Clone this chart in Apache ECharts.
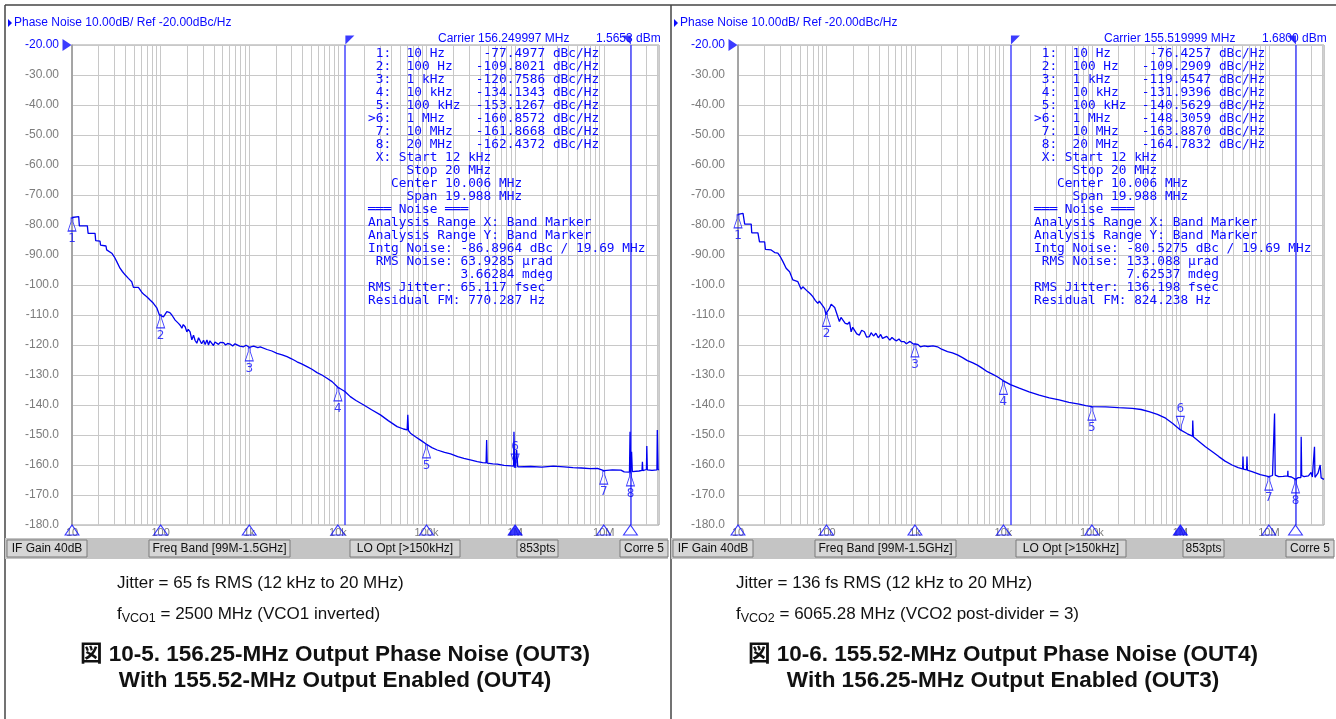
<!DOCTYPE html>
<html>
<head>
<meta charset="utf-8">
<title>Phase noise OUT3 / OUT4</title>
<script src="https://cdn.jsdelivr.net/npm/echarts@6.0.0/dist/echarts.min.js"></script>
<style>
html, body { margin: 0; padding: 0; background: #fff; }
#chart { width: 1336px; height: 719px; }
</style>
</head>
<body>
<div id="chart"></div>
<script>
// axes: offset frequency (Hz, log) and level (dBc/Hz)
const xMin = 10
const xMax = 42e6
const yMin = -180
const yMax = -20
const yStep = 10
const decadeLabels = { 10: '10', 100: '100', 1000: '1k', 10000: '10k', 100000: '100k', 1000000: '1M', 10000000: '10M' }

// markers
const markerFreqs = [10, 100, 1e3, 1e4, 1e5, 1e6, 1e7, 2e7]
const markerNames = ['10 Hz', '100 Hz', '1 kHz', '10 kHz', '100 kHz', '1 MHz', '10 MHz', '20 MHz']
const activeMarker = 5
const markersOut3 = [-77.4977, -109.8021, -120.7586, -134.1343, -153.1267, -160.8572, -161.8668, -162.4372]
const markersOut4 = [-76.4257, -109.2909, -119.4547, -131.9396, -140.5629, -148.3059, -163.8870, -164.7832]
const bandStart = 12e3
const bandStop = 20e6

// analysis results
const carriers = ['156.249997', '155.519999']
const carrierPower = ['1.5653', '1.6800']
const intgNoise = ['-86.8964', '-80.5275']
const rmsNoiseRad = ['63.9285', '133.088']
const rmsNoiseDeg = ['3.66284', '7.62537']
const rmsJitter = ['65.117', '136.198']
const residualFM = ['770.287', '824.238']

// captions
const jitterNotes = ['Jitter = 65 fs RMS (12 kHz to 20 MHz)', 'Jitter = 136 fs RMS (12 kHz to 20 MHz)']
const vcoSub = ['VCO1', 'VCO2']
const vcoNotes = [' = 2500 MHz (VCO1 inverted)', ' = 6065.28 MHz (VCO2 post-divider = 3)']
const titles = [
  ['図 10-5. 156.25-MHz Output Phase Noise (OUT3)', 'With 155.52-MHz Output Enabled (OUT4)'],
  ['図 10-6. 155.52-MHz Output Phase Noise (OUT4)', 'With 156.25-MHz Output Enabled (OUT3)']
]
const statusItems = ['IF Gain 40dB', 'Freq Band [99M-1.5GHz]', 'LO Opt [>150kHz]', '853pts', 'Corre 5']

// traces [Hz, dBc/Hz]
const traceOut3 = [
  [10, -77.5], [11.9, -77.2], [12.1, -80.3], [14.9, -80.3], [15.2, -82.8], [18.2, -82.8], [18.5, -85.2], [20.7, -85.4],
  [21, -86.7], [24.2, -87], [24.6, -88.3], [28.1, -89.4], [30, -90.6], [32, -92.2], [34.8, -94.4], [37, -95.5],
  [39.7, -96.6], [43.3, -97.8], [47.2, -98.9], [49.3, -100.8], [56.1, -100.8], [57, -100.3], [61.2, -102.4], [65, -103.2],
  [69.8, -103.9], [76, -105], [82.9, -106.1], [90.5, -107.6], [96.9, -110], [100, -109.8], [107.6, -110.6], [117.5, -108.9],
  [122, -108.3], [127, -109.2], [133.8, -110], [145.9, -111.7], [159, -112.8], [167, -113.5], [173.7, -114.4], [180, -113.2],
  [189, -113.9], [197.6, -115.6], [205, -114.8], [215, -115.6], [225, -118.3], [235, -116.7], [245, -118.5], [256, -119.4],
  [268, -117.6], [279, -117.8], [290, -119.6], [305, -118.4], [318, -119.8], [333, -118.3], [347, -120], [360, -118.6],
  [378, -118.9], [395, -120.2], [410, -119], [431, -119.4], [450, -119.8], [470, -119.1], [490, -119.6], [513, -119.2],
  [540, -120], [570, -119.5], [610, -119.7], [650, -120.3], [690, -119.6], [726, -120], [780, -120.4], [863, -120.6],
  [920, -120.1], [1000, -120.76], [1120, -120.4], [1250, -120.9], [1331, -120.6], [1585, -121.5], [1800, -122], [2056, -122.8],
  [2350, -123.3], [2666, -123.9], [3000, -124.6], [3457, -125.6], [3900, -126.3], [4483, -127.2], [5100, -128.1], [5815, -129.2],
  [6600, -130], [7540, -131.1], [8600, -132.2], [10000, -134.1], [12000, -135.5], [13800, -137.2], [16000, -138.5], [19600, -140],
  [24000, -141.6], [30200, -143.3], [37000, -145.2], [46600, -147.2], [55000, -148], [60500, -148.3], [61500, -143.3], [62500, -148.5],
  [65900, -149.4], [75000, -150.6], [85500, -151.7], [100000, -153.1], [115000, -154.2], [132000, -155], [160000, -155.8], [187000, -156.3],
  [225000, -157.2], [264000, -157.8], [320000, -158.4], [374000, -158.9], [430000, -159.2], [470000, -159.3], [477000, -151.7], [484000, -159.4],
  [560000, -159.6], [630000, -159.7], [750000, -160.1], [900000, -160.3], [960000, -160.4], [970000, -148.9], [985000, -160], [1000000, -160.86],
  [1040000, -155], [1070000, -160.6], [1500000, -160.5], [2000000, -160.7], [2700000, -160.4], [3560000, -160.6], [4500000, -160.9], [5600000, -161],
  [7000000, -161.2], [8500000, -161.1], [10000000, -161.87], [12500000, -161.6], [15600000, -161.7], [17000000, -162.3], [19500000, -162.4], [19800000, -148.9],
  [20100000, -162.44], [20600000, -155.6], [21000000, -162.2], [25000000, -162], [27000000, -161.8], [27300000, -158.9], [27600000, -161.9], [30300000, -161.5],
  [30600000, -153.7], [31000000, -161.6], [35000000, -161.8], [39800000, -161.6], [40200000, -148.3], [40600000, -155.6], [41000000, -161.5], [42000000, -161.6]
]
const traceOut4 = [
  [10, -76.43], [11.4, -76.1], [11.9, -79.7], [14.1, -79.7], [14.3, -82.6], [16.8, -82.6], [17.5, -85.6], [20, -85.6],
  [20.4, -88.1], [23.7, -88.3], [26, -89.2], [28.2, -89.4], [30, -90.5], [32.2, -92.2], [35, -94.4], [36.5, -94.8],
  [38.3, -95.6], [41.7, -98.3], [47.5, -98.9], [51.7, -101.4], [54, -100.6], [56.5, -100.8], [61.5, -102.2], [66, -103],
  [70.1, -103.9], [75, -105.2], [79.8, -106.1], [83, -105.4], [87, -105.6], [95, -107.8], [99, -110], [100, -109.29],
  [104, -109.5], [108, -107.8], [113, -106.4], [118, -106.7], [124, -107.5], [128, -107.8], [134, -110.5], [140, -112.2],
  [146, -110.8], [153, -111.1], [163, -112.8], [174, -113], [182, -112.3], [190, -115.6], [198, -114.1], [207, -114.4],
  [220, -116.3], [235, -116.7], [250, -115.1], [268, -115.6], [285, -117.4], [305, -117.2], [320, -115.9], [340, -117],
  [362, -116.1], [385, -117.6], [410, -116.5], [430, -117.8], [451, -117.5], [480, -117.1], [520, -118.4], [550, -117.5],
  [584, -118.2], [620, -118.6], [660, -118], [700, -118.9], [757, -118.9], [800, -119.6], [880, -118.8], [950, -119.6],
  [1000, -119.45], [1080, -119.8], [1150, -120.6], [1274, -120.3], [1400, -120.5], [1600, -120.3], [1797, -120.6], [2000, -121.4],
  [2333, -122.2], [2650, -122.6], [3021, -123.3], [3450, -124.2], [3917, -125.2], [4450, -125.9], [5079, -126.7], [5800, -127.8],
  [6581, -128.9], [7500, -129.7], [8531, -130.6], [10000, -131.94], [12000, -133.2], [15100, -134.4], [19500, -135.6], [25400, -136.7],
  [33000, -137.6], [42600, -138.3], [55000, -139.1], [71700, -139.7], [85000, -140.2], [100000, -140.56], [143000, -140.6], [200000, -140.9],
  [286000, -141.1], [360000, -141.5], [442000, -142.2], [550000, -143.1], [681000, -144.4], [820000, -146.2], [1000000, -148.31], [1200000, -149.6],
  [1370000, -150.4], [1380000, -145.2], [1400000, -150.6], [1650000, -152.3], [1920000, -153.9], [2300000, -155.6], [2720000, -157.2], [3200000, -158.7],
  [3840000, -160], [4500000, -160.9], [5050000, -161.3], [5100000, -157.2], [5150000, -161.4], [5600000, -161.6], [5660000, -157.2], [5720000, -161.7],
  [6450000, -162.2], [8000000, -163.2], [10000000, -163.89], [11000000, -163.5], [11500000, -163.2], [11600000, -142.8], [11800000, -163.4], [12900000, -163.9],
  [14500000, -163.8], [16300000, -163.6], [16400000, -161.9], [16500000, -163.8], [18000000, -164], [20000000, -164.78], [21500000, -164.2], [23000000, -164.2],
  [23200000, -150.6], [23500000, -163.5], [25000000, -163.9], [28000000, -163.6], [30000000, -162.5], [31000000, -164], [32800000, -153.9], [33200000, -164.1],
  [36000000, -162.6], [38000000, -160], [39000000, -164.3], [42000000, -164.8]
]

const blue = '#0a0aff'
const traceBlue = '#0000f0'
const gridGray = '#c8c8c8'
const labelGray = '#7c7c7c'
const monoFont = '12.8px "DejaVu Sans Mono"'
const uiFont = '12px "Liberation Sans"'
const markerPath = 'path://M3,0L5,0L5,4L8,13L0,13L3,4Z'

const minorFreqs = []
for (let d = 10; d < xMax; d *= 10) {
  for (let k = 2; k <= 9; k++) {
    if (d * k < xMax) minorFreqs.push(d * k)
  }
}

const panels = [
  { left: 72, width: 587, dx: 0, trace: traceOut3, markers: markersOut3 },
  { left: 738, width: 586, dx: 666, trace: traceOut4, markers: markersOut4 }
]

function markerLines(vals) {
  return vals.map((v, i) => {
    const tag = (i === activeMarker ? '>' : ' ') + (i + 1) + ':'
    return tag + '  ' + markerNames[i].padEnd(9) + v.toFixed(4).padStart(9) + ' dBc/Hz'
  })
}

function panelText(p) {
  return markerLines(panels[p].markers).concat([
    ' X: Start 12 kHz',
    '     Stop 20 MHz',
    '   Center 10.006 MHz',
    '     Span 19.988 MHz',
    '═══ Noise ═══',
    'Analysis Range X: Band Marker',
    'Analysis Range Y: Band Marker',
    'Intg Noise: ' + intgNoise[p] + ' dBc / 19.69 MHz',
    ' RMS Noise: ' + rmsNoiseRad[p] + ' µrad',
    '            ' + rmsNoiseDeg[p] + ' mdeg',
    'RMS Jitter: ' + rmsJitter[p] + ' fsec',
    'Residual FM: ' + residualFM[p] + ' Hz'
  ]).join('\n')
}

const statusBoxes = [[7, 80], [149, 141], [350, 110], [517, 41], [620, 48]]

const graphic = [
  { type: 'line', shape: { x1: 5, y1: 5, x2: 1336, y2: 5 }, style: { stroke: '#444', lineWidth: 1.5 } },
  { type: 'line', shape: { x1: 5, y1: 5, x2: 5, y2: 719 }, style: { stroke: '#444', lineWidth: 1.5 } },
  { type: 'line', shape: { x1: 671, y1: 5, x2: 671, y2: 719 }, style: { stroke: '#444', lineWidth: 1.5 } }
]

panels.forEach((pan, p) => {
  const dx = pan.dx
  graphic.push(
    { type: 'polygon', shape: { points: [[8 + dx, 19], [12 + dx, 23], [8 + dx, 27]] }, style: { fill: blue } },
    { type: 'text', style: { text: 'Phase Noise 10.00dB/ Ref -20.00dBc/Hz', x: 14 + dx, y: 23, verticalAlign: 'middle', font: uiFont, fill: blue } },
    { type: 'text', style: { text: 'Carrier ' + carriers[p] + ' MHz', x: 438 + dx, y: 39, verticalAlign: 'middle', font: uiFont, fill: blue } },
    { type: 'text', style: { text: carrierPower[p] + ' dBm', x: 596 + dx, y: 39, verticalAlign: 'middle', font: uiFont, fill: blue } },
    { type: 'text', z: 20, style: { text: panelText(p), x: 368 + dx, y: 47, verticalAlign: 'top', font: monoFont, lineHeight: 13, fill: blue } },
    { type: 'rect', shape: { x: 5 + dx, y: 538, width: 663, height: 21 }, style: { fill: '#c4c4c4' } }
  )
  statusBoxes.forEach((b, i) => {
    graphic.push(
      { type: 'rect', shape: { x: b[0] + dx, y: 540, width: b[1], height: 17 }, style: { fill: '#d6d6d6', stroke: '#7a7a7a', lineWidth: 1 } },
      { type: 'text', style: { text: statusItems[i], x: b[0] + dx + b[1] / 2, y: 549, align: 'center', verticalAlign: 'middle', font: uiFont, fill: '#111' } }
    )
  })
  const cx = p === 0 ? 117 : 736
  const tc = p === 0 ? 335 : 1003
  const titleFont = 'bold 22.5px "Liberation Sans", "Noto Sans CJK JP"'
  graphic.push(
    { type: 'text', style: { text: jitterNotes[p], x: cx, y: 583, verticalAlign: 'middle', font: '17px "Liberation Sans"', fill: '#111' } },
    {
      type: 'text',
      style: {
        text: '{m|f}{s|' + vcoSub[p] + '}{m|' + vcoNotes[p] + '}',
        x: cx, y: 614, verticalAlign: 'middle', fill: '#111',
        rich: {
          m: { fontSize: 17, fontFamily: 'Liberation Sans', lineHeight: 22, fill: '#111' },
          s: { fontSize: 12.5, fontFamily: 'Liberation Sans', lineHeight: 12, padding: [10, 0, 0, 0], fill: '#111' }
        }
      }
    },
    { type: 'text', style: { text: titles[p][0], x: tc, y: 655, align: 'center', verticalAlign: 'middle', font: titleFont, fill: '#111' } },
    { type: 'text', style: { text: titles[p][1], x: tc, y: 681, align: 'center', verticalAlign: 'middle', font: titleFont, fill: '#111' } }
  )
})

const grids = panels.map(pan => ({
  left: pan.left, top: 45, width: pan.width, height: 480,
  show: true, borderColor: '#a0a0a0', borderWidth: 1, backgroundColor: '#fff',
  outerBoundsMode: 'none'
}))

const xAxes = panels.map((pan, i) => ({
  type: 'log', logBase: 10, gridIndex: i, min: xMin, max: xMax, splitNumber: 7,
  axisLine: { show: false }, axisTick: { show: false },
  axisLabel: {
    margin: 2, fontSize: 11, fontFamily: 'Liberation Sans', color: labelGray,
    formatter: v => decadeLabels[Math.round(v)] || ''
  },
  splitLine: { show: true, lineStyle: { color: gridGray, width: 1 } }
}))

const yAxes = panels.map((pan, i) => ({
  type: 'value', gridIndex: i, min: yMin, max: yMax, interval: yStep,
  axisLine: { show: true, lineStyle: { color: '#999', width: 1.5 } }, axisTick: { show: false },
  axisLabel: {
    margin: 13, fontSize: 12, fontFamily: 'Liberation Sans',
    color: v => (Number(v) === yMax ? blue : labelGray),
    formatter: v => (v > -100 ? v.toFixed(2) : v.toFixed(1))
  },
  splitLine: { show: true, lineStyle: { color: gridGray, width: 1 } }
}))

const series = []
panels.forEach((pan, i) => {
  const axes = { xAxisIndex: i, yAxisIndex: i }
  series.push({
    ...axes, type: 'line', z: 1, data: [[xMin, yMin]], symbol: 'none', lineStyle: { opacity: 0 },
    markLine: {
      silent: true, symbol: ['none', 'none'], label: { show: false },
      lineStyle: { color: gridGray, width: 1, type: 'solid' },
      data: minorFreqs.map(f => ({ xAxis: f }))
    }
  })
  series.push({
    ...axes, type: 'line', z: 4, data: [[xMin, yMin]], symbol: 'none', lineStyle: { opacity: 0 },
    markLine: {
      silent: true, symbol: ['none', 'none'], label: { show: false },
      lineStyle: { color: '#4646ff', width: 1.5, type: 'solid' },
      data: [{ xAxis: bandStart }, { xAxis: bandStop }]
    }
  })
  series.push({
    ...axes, type: 'line', z: 5, data: pan.trace, showSymbol: false, symbol: 'none',
    lineStyle: { color: traceBlue, width: 1.3 }
  })
  series.push({
    ...axes, type: 'scatter', z: 6, clip: false,
    symbol: markerPath, symbolSize: [8, 13],
    itemStyle: { color: 'rgba(255,255,255,0)', borderColor: blue, borderWidth: 1 },
    label: { show: true, color: blue, fontSize: 12, fontFamily: 'DejaVu Sans', distance: 1, formatter: p => String(p.dataIndex + 1) },
    data: markerFreqs.map((f, k) => {
      const act = k === activeMarker
      return {
        value: [f, pan.markers[k]],
        symbolRotate: act ? 180 : 0,
        symbolOffset: act ? [0, -7] : [0, 7],
        label: { position: act ? 'top' : 'bottom' }
      }
    })
  })
  series.push({
    ...axes, type: 'scatter', z: 6, clip: false,
    symbol: 'triangle', symbolSize: [14, 10], symbolOffset: [0, 5],
    data: markerFreqs.map((f, k) => ({
      value: [f, yMin],
      itemStyle: { color: k === activeMarker ? blue : 'rgba(255,255,255,0)', borderColor: blue, borderWidth: 1 }
    }))
  })
  series.push({
    ...axes, type: 'scatter', z: 7, clip: false,
    symbolSize: [9, 9],
    itemStyle: { color: blue },
    data: [
      { value: [bandStart, yMax], symbol: 'path://M0,0L10,0L0,10Z', symbolOffset: [5, -5] },
      { value: [bandStop, yMax], symbol: 'path://M0,0L10,0L10,10Z', symbolOffset: [-4, -5] },
      { value: [xMin, yMax], symbol: 'path://M0,0L10,6L0,12Z', symbolSize: [9, 12], symbolOffset: [-5, 0] }
    ]
  })
})

const chart = echarts.init(document.getElementById('chart'))
chart.setOption({
  animation: false,
  backgroundColor: '#fff',
  grid: grids,
  xAxis: xAxes,
  yAxis: yAxes,
  series: series,
  graphic: graphic
})
</script>
</body>
</html>
